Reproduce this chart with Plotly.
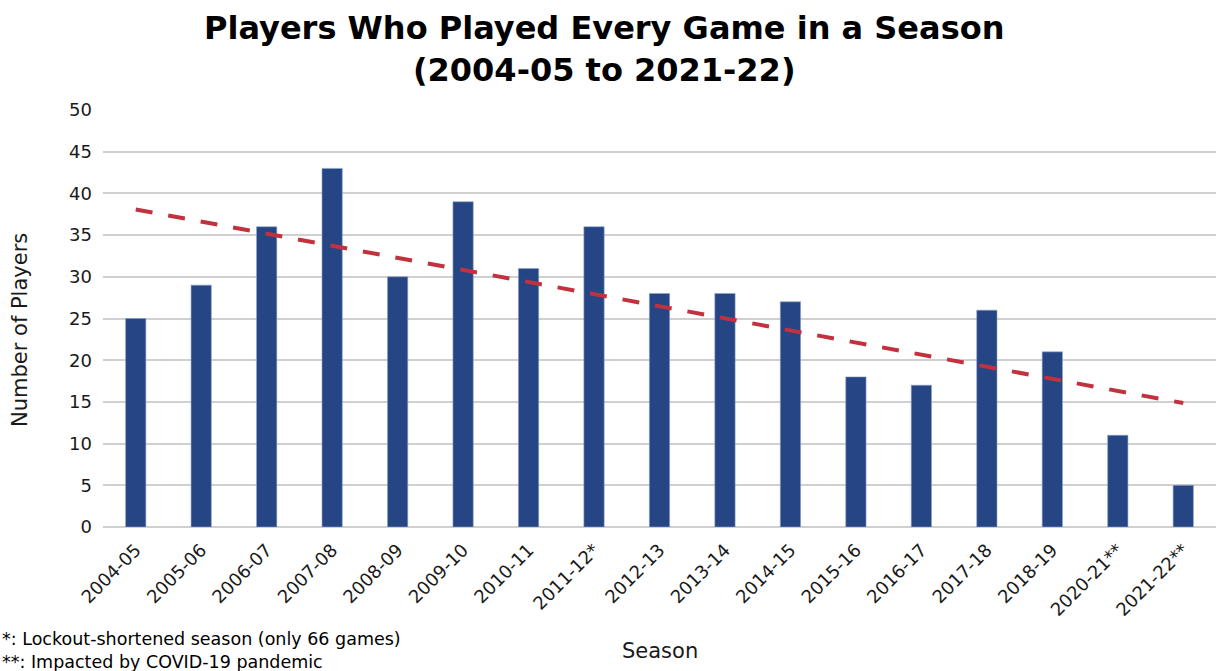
import numpy as np
import plotly.graph_objects as go

seasons = ["2004-05", "2005-06", "2006-07", "2007-08", "2008-09", "2009-10", "2010-11",
           "2011-12*", "2012-13", "2013-14", "2014-15", "2015-16", "2016-17", "2017-18",
           "2018-19", "2020-21**", "2021-22**"]
players = [25, 29, 36, 43, 30, 39, 31, 36, 28, 28, 27, 18, 17, 26, 21, 11, 5]

idx = np.arange(len(players))
slope, intercept = np.polyfit(idx, players, 1)
trend = slope * idx + intercept

FONT = "DejaVu Sans, Verdana, sans-serif"
PW, PH = 1113, 417  # plot area size in px

fig = go.Figure()
fig.add_trace(go.Bar(
    x=seasons, y=players,
    marker=dict(color="#264584", line=dict(color="#8ea3c9", width=0.6)),
    showlegend=False,
))
fig.add_trace(go.Scatter(
    x=seasons, y=trend, mode="lines",
    line=dict(color="#c1323e", width=4, dash="17px,16px"),
    showlegend=False,
))

fig.update_layout(
    width=1216, height=671,
    margin=dict(l=103, r=0, t=110, b=144),
    paper_bgcolor="white", plot_bgcolor="white",
    bargap=0.69,
    font=dict(family=FONT, color="#1a1a1a", size=18),
    xaxis=dict(
        type="category",
        tickangle=-45, tickfont=dict(size=18),
        ticklabelstandoff=8,
        showgrid=False, showline=False, ticks="",
    ),
    yaxis=dict(
        range=[0, 50], dtick=5, tickfont=dict(size=18),
        ticklabelstandoff=10,
        showgrid=True, gridcolor="#d0d0d0", gridwidth=1.5,
        zeroline=True, zerolinecolor="#d0d0d0", zerolinewidth=1.5,
        ticks="",
    ),
    annotations=[
        dict(text="<b>Players Who Played Every Game in a Season<br>(2004-05 to 2021-22)</b>",
             xref="paper", yref="paper", x=(604 - 103) / PW, y=(527 - 49) / PH,
             xanchor="center", yanchor="middle", align="center", showarrow=False,
             font=dict(family=FONT, size=32, color="black")),
        dict(text="*: Lockout-shortened season (only 66 games)<br>**: Impacted by COVID-19 pandemic",
             xref="paper", yref="paper", x=-103 / PW, y=-(144 + 3) / PH,
             xanchor="left", yanchor="bottom", align="left", showarrow=False,
             font=dict(family=FONT, size=17.5, color="black")),
        dict(text="Season", xref="paper", yref="paper", x=0.5, y=-(651 - 527) / PH,
             xanchor="center", yanchor="middle", showarrow=False,
             font=dict(family=FONT, size=21, color="#1a1a1a")),
        dict(text="Number of Players", xref="paper", yref="paper", x=-(103 - 20) / PW,
             y=(527 - 330) / PH, xanchor="center", yanchor="middle", textangle=-90,
             showarrow=False, font=dict(family=FONT, size=21, color="#1a1a1a")),
    ],
)

fig.write_html("out.html")
